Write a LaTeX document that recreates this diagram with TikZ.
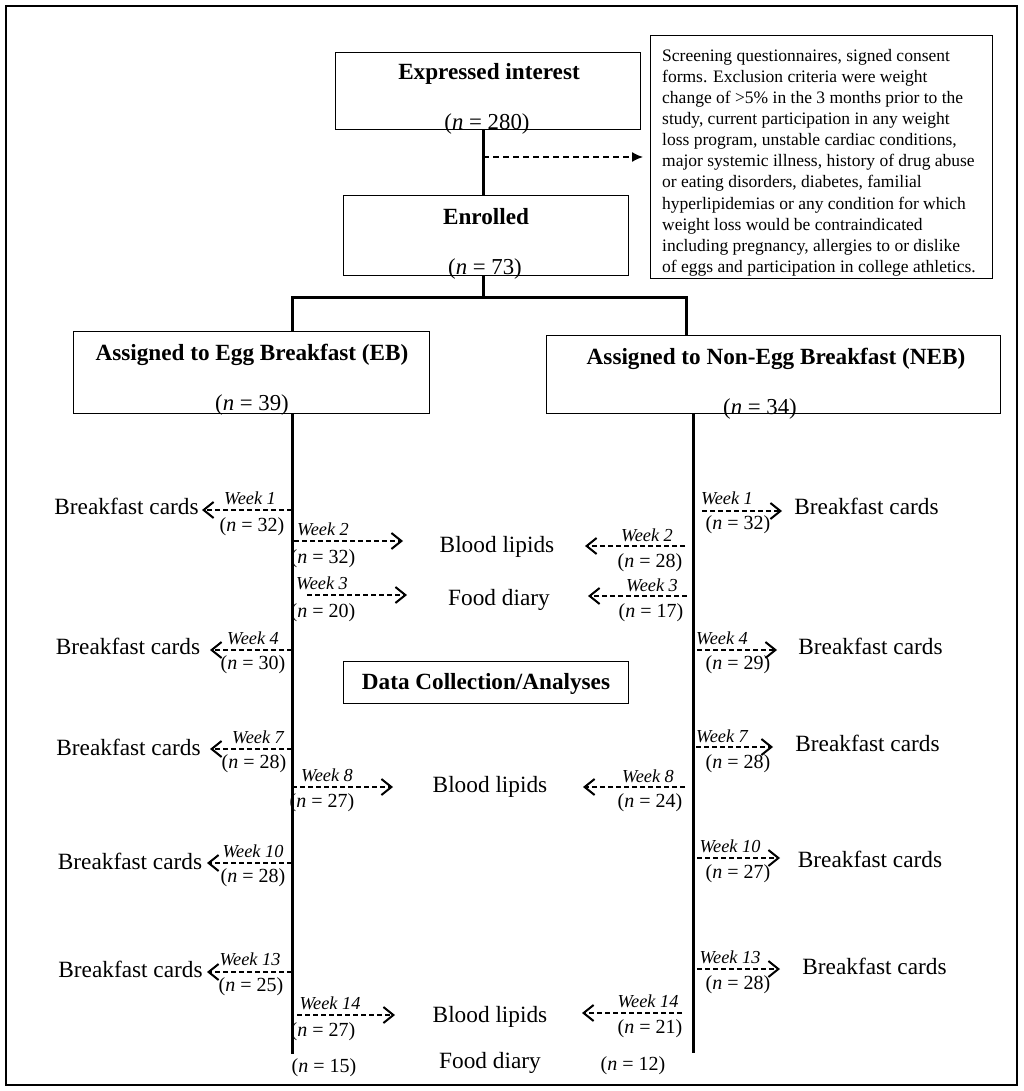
\documentclass[tikz,border=0pt]{standalone}
\usepackage{fontspec}
\setmainfont{Liberation Serif}
\usetikzlibrary{arrows.meta}
\begin{document}
\begin{tikzpicture}[x=1pt,y=-1pt,
 box/.style={draw, line width=1.3pt, inner sep=0, anchor=north west},
 ttl/.style={font=\fontsize{23.2}{27}\selectfont\bfseries, inner sep=0, anchor=base},
 bign/.style={font=\fontsize{22.8}{26}\selectfont, inner sep=0, anchor=base},
 lbl/.style={font=\fontsize{23.3}{27}\selectfont, inner sep=0, anchor=base},
 wkl/.style={font=\fontsize{18.3}{21}\selectfont\itshape, inner sep=0, anchor=base},
 cnt/.style={font=\fontsize{20}{23}\selectfont, inner sep=0, anchor=base},
 trunk/.style={line width=3pt},
 wka/.style={dashed, dash pattern=on 5pt off 3pt, line width=1.4pt, -{Straight Barb[length=10pt,width=16pt,line width=2pt]}},
 exa/.style={dashed, dash pattern=on 6pt off 4pt, line width=1.4pt, -{Latex[length=11pt,width=10pt]}}
]
\useasboundingbox (0,0) rectangle (1024,1091);
\fill[white] (0,0) rectangle (1024,1091);
\draw[line width=2pt] (6,6) rectangle (1017,1085);

% boxes
\node[box, minimum width=305pt, minimum height=77pt] (ei) at (335,52) {};
\node[ttl] (eit) at (489,80) {Expressed interest};
\node[bign] (ein) at (487,130) {(\textit{n} = 280)};

\node[box, minimum width=285pt, minimum height=80pt] (en) at (343,195) {};
\node[ttl] (ent) at (486,225) {Enrolled};
\node[bign] (enn) at (485,274.5) {(\textit{n} = 73)};

\node[box, minimum width=342pt, minimum height=243pt] (crit) at (650,35) {};
\node[anchor=north west, inner sep=0, align=left,
      font=\fontsize{17.5}{21.1}\selectfont] (critt) at (662,49)
 {Screening questionnaires, signed consent\\
  forms. Exclusion criteria were weight\\
  change of >5\% in the 3 months prior to the\\
  study, current participation in any weight\\
  loss program, unstable cardiac conditions,\\
  major systemic illness, history of drug abuse\\
  or eating disorders, diabetes, familial\\
  hyperlipidemias or any condition for which\\
  weight loss would be contraindicated\\
  including pregnancy, allergies to or dislike\\
  of eggs and participation in college athletics.};

\node[box, minimum width=356pt, minimum height=82pt] (eb) at (73,331) {};
\node[ttl] (ebt) at (252,360) {Assigned to Egg Breakfast (EB)};
\node[bign] (ebn) at (252,410) {(\textit{n} = 39)};

\node[box, minimum width=454pt, minimum height=78pt] (neb) at (546,335) {};
\node[ttl] (nebt) at (776,364) {Assigned to Non-Egg Breakfast (NEB)};
\node[bign] (nebn) at (760,414) {(\textit{n} = 34)};

\node[box, minimum width=285pt, minimum height=42pt] (dca) at (343,661) {};
\node[ttl] (dcat) at (486,689) {Data Collection/Analyses};

% trunk connectors
\coordinate (jm) at (483,157);
\coordinate (brL) at (292,297);
\coordinate (brR) at (686,297);
\coordinate (Lbot) at (292,1054);
\coordinate (Rbot) at (693,1053);
\draw[trunk] ([xshift=-4.5pt]ei.south) -- ([xshift=-2.5pt]en.north);
\draw[exa] (jm) -- ([xshift=-7pt]crit.west |- jm);
\draw[trunk] ([xshift=-2.5pt]en.south) -- ([xshift=-2.5pt]en.south |- brL);
\draw[trunk] (eb.north -| brL) |- (brR) -- (neb.north -| brR);
\draw[trunk] (eb.south -| Lbot) -- (Lbot);
\draw[trunk] (neb.south -| Rbot) -- (Rbot);

% ---------- left side ----------
\node[lbl] (bcL1) at (126.5,514) {Breakfast cards};
\node[wkl] (wL1) at (250,504) {Week 1};
\node[cnt] (nL1) at (252,531) {(\textit{n} = 32)};
\coordinate (sL1) at (292,510); \coordinate (tL1) at (202,510);
\draw[wka] (sL1) -- (tL1);

\node[lbl] (blL2) at (497,552) {Blood lipids};
\node[wkl] (wL2) at (323,535) {Week 2};
\node[cnt] (nL2) at (323,563) {(\textit{n} = 32)};
\coordinate (sL2) at (294,541); \coordinate (tL2) at (403,541);
\draw[wka] (sL2) -- (tL2);

\node[lbl] (fdL3) at (499,605) {Food diary};
\node[wkl] (wL3) at (322,589) {Week 3};
\node[cnt] (nL3) at (323,617) {(\textit{n} = 20)};
\coordinate (sL3) at (307,595); \coordinate (tL3) at (407,595);
\draw[wka] (sL3) -- (tL3);

\node[lbl] (bcL4) at (128,654) {Breakfast cards};
\node[wkl] (wL4) at (253,644) {Week 4};
\node[cnt] (nL4) at (253,669.5) {(\textit{n} = 30)};
\coordinate (sL4) at (292,650); \coordinate (tL4) at (210,650);
\draw[wka] (sL4) -- (tL4);

\node[lbl] (bcL7) at (128.5,755) {Breakfast cards};
\node[wkl] (wL7) at (258,743) {Week 7};
\node[cnt] (nL7) at (254,768.5) {(\textit{n} = 28)};
\coordinate (sL7) at (292,749); \coordinate (tL7) at (210,749);
\draw[wka] (sL7) -- (tL7);

\node[lbl] (blL8) at (490,792) {Blood lipids};
\node[wkl] (wL8) at (327,781) {Week 8};
\node[cnt] (nL8) at (322,807.5) {(\textit{n} = 27)};
\coordinate (sL8) at (292,787); \coordinate (tL8) at (393,787);
\draw[wka] (sL8) -- (tL8);

\node[lbl] (bcL10) at (130,869) {Breakfast cards};
\node[wkl] (wL10) at (253,857) {Week 10};
\node[cnt] (nL10) at (253,882.5) {(\textit{n} = 28)};
\coordinate (sL10) at (292,863); \coordinate (tL10) at (207,863);
\draw[wka] (sL10) -- (tL10);

\node[lbl] (bcL13) at (130.5,977) {Breakfast cards};
\node[wkl] (wL13) at (250,965) {Week 13};
\node[cnt] (nL13) at (251,991.5) {(\textit{n} = 25)};
\coordinate (sL13) at (292,972); \coordinate (tL13) at (207,972);
\draw[wka] (sL13) -- (tL13);

\node[lbl] (blL14) at (490,1022) {Blood lipids};
\node[wkl] (wL14) at (330,1009) {Week 14};
\node[cnt] (nL14) at (323,1036.5) {(\textit{n} = 27)};
\coordinate (sL14) at (297,1015); \coordinate (tL14) at (395,1015);
\draw[wka] (sL14) -- (tL14);

\node[cnt] (nL15) at (324,1072.5) {(\textit{n} = 15)};
\node[lbl] (fdB) at (490,1068) {Food diary};
\node[cnt] (nR12) at (633,1070.5) {(\textit{n} = 12)};

% ---------- right side ----------
\node[lbl] (bcR1) at (866.5,514) {Breakfast cards};
\node[wkl] (wR1) at (727,504) {Week 1};
\node[cnt] (nR1) at (738,529.5) {(\textit{n} = 32)};
\coordinate (sR1) at (702,511); \coordinate (tR1) at (782,511);
\draw[wka] (sR1) -- (tR1);

\node[wkl] (wR2) at (647,541) {Week 2};
\node[cnt] (nR2) at (650,567.5) {(\textit{n} = 28)};
\coordinate (sR2) at (685,546); \coordinate (tR2) at (585,546);
\draw[wka] (sR2) -- (tR2);

\node[wkl] (wR3) at (652,591) {Week 3};
\node[cnt] (nR3) at (651,617.5) {(\textit{n} = 17)};
\coordinate (sR3) at (687,596); \coordinate (tR3) at (588,596);
\draw[wka] (sR3) -- (tR3);

\node[lbl] (bcR4) at (870.5,654) {Breakfast cards};
\node[wkl] (wR4) at (722,644) {Week 4};
\node[cnt] (nR4) at (738,669.5) {(\textit{n} = 29)};
\coordinate (sR4) at (697,650); \coordinate (tR4) at (777,650);
\draw[wka] (sR4) -- (tR4);

\node[lbl] (bcR7) at (867.5,751) {Breakfast cards};
\node[wkl] (wR7) at (722,742) {Week 7};
\node[cnt] (nR7) at (738,768.5) {(\textit{n} = 28)};
\coordinate (sR7) at (696,747); \coordinate (tR7) at (773,747);
\draw[wka] (sR7) -- (tR7);

\node[wkl] (wR8) at (648,782) {Week 8};
\node[cnt] (nR8) at (650,807.5) {(\textit{n} = 24)};
\coordinate (sR8) at (685,787); \coordinate (tR8) at (583,787);
\draw[wka] (sR8) -- (tR8);

\node[lbl] (bcR10) at (870,867) {Breakfast cards};
\node[wkl] (wR10) at (730,852) {Week 10};
\node[cnt] (nR10) at (738,878.5) {(\textit{n} = 27)};
\coordinate (sR10) at (697,858); \coordinate (tR10) at (780,858);
\draw[wka] (sR10) -- (tR10);

\node[lbl] (bcR13) at (874.5,974) {Breakfast cards};
\node[wkl] (wR13) at (730,963) {Week 13};
\node[cnt] (nR13) at (738,989.5) {(\textit{n} = 28)};
\coordinate (sR13) at (697,969); \coordinate (tR13) at (780,969);
\draw[wka] (sR13) -- (tR13);

\node[wkl] (wR14) at (648,1007) {Week 14};
\node[cnt] (nR14) at (650,1033.5) {(\textit{n} = 21)};
\coordinate (sR14) at (682,1013); \coordinate (tR14) at (582,1013);
\draw[wka] (sR14) -- (tR14);
\end{tikzpicture}
\end{document}
